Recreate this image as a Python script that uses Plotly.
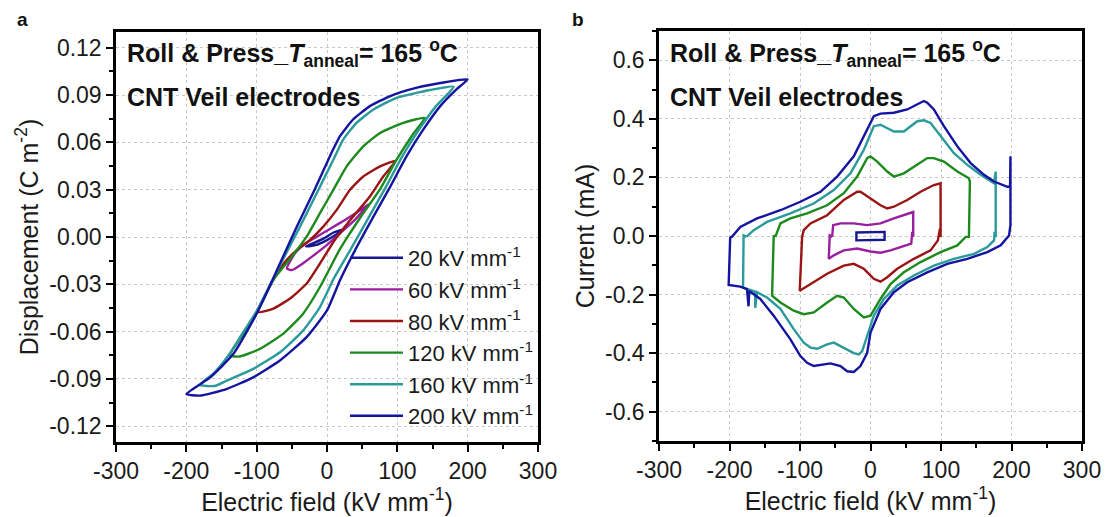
import plotly.graph_objects as go

# ---------------- Panel a: D-E loops ----------------
series_names = ["20 kV mm<sup>-1</sup>", "60 kV mm<sup>-1</sup>", "80 kV mm<sup>-1</sup>",
                "120 kV mm<sup>-1</sup>", "160 kV mm<sup>-1</sup>", "200 kV mm<sup>-1</sup>"]
series_colors = ["#17178f", "#9a1f9e", "#9b1414", "#1c8a1c", "#2a9a9a", "#1414a0"]

de_20_E = [25, 10, -5, -20, -30, -15, 0, 15, 25]
de_20_D = [0.005, 0.003, -0.001, -0.004, -0.006, -0.005, -0.002, 0.002, 0.005]

de_60_E = [59, 47, 30, 15, 0, -15, -30, -45, -57, -50, -35, -20, 0, 20, 40, 59]
de_60_D = [0.0208, 0.017, 0.012, 0.008, 0.004, 0.0, -0.004, -0.010, -0.020,
           -0.021, -0.017, -0.012, -0.005, 0.003, 0.011, 0.0208]

de_80_E = [97.6, 75.4, 51.6, 32.7, 13.8, -5.3, -24.2, -43, -60, -75, -97.7,
           -76.3, -52.6, -28.9, -10, 11, 33, 61, 80, 97.6]
de_80_D = [0.0484, 0.0448, 0.0384, 0.0299, 0.0172, 0.0066, -0.0019, -0.0083, -0.016, -0.026, -0.0476,
           -0.0454, -0.039, -0.0295, -0.0168, -0.0019, 0.0108, 0.0257, 0.0384, 0.0484]

de_120_E = [139, 108.5, 75.4, 51.6, 28, 9, -10, -29, -50, -76, -100, -120, -138,
            -124, -95, -62, -34, -10, 5, 18, 32, 50, 75, 99, 122, 139]
de_120_D = [0.0756, 0.0724, 0.066, 0.0575, 0.0448, 0.0299, 0.0151, 0.0002, -0.0125, -0.027, -0.048, -0.062, -0.0752,
            -0.0758, -0.0709, -0.0613, -0.0486, -0.0317, -0.019, -0.008, 0.002, 0.014, 0.030, 0.049, 0.065, 0.0756]

de_160_E = [180, 146.5, 99, 66, 42, 23, 9, -14.6, -38.4, -60, -76, -100, -120, -140, -160, -180.6,
            -160, -142.6, -104.8, -66.8, -33.7, -10, 10, 33, 60, 84, 107, 131, 155, 180]
de_160_D = [0.0953, 0.0932, 0.0883, 0.0809, 0.0724, 0.0618, 0.049, 0.0278, 0.0066, -0.012, -0.026, -0.047, -0.061, -0.075, -0.086, -0.0938,
            -0.0945, -0.0911, -0.0836, -0.0731, -0.0592, -0.0444, -0.026, -0.0083, 0.0129, 0.032, 0.0511, 0.0682, 0.083, 0.0953]

de_200_E = [200, 170, 128, 90, 61, 37, 18.5, 4, -19.5, -43, -62, -76, -100, -133, -166, -200,
            -181, -143, -105, -67, -29, 0, 18.5, 40, 66, 90, 113, 137, 161, 184, 200]
de_200_D = [0.100, 0.0983, 0.0947, 0.0894, 0.0830, 0.0745, 0.0639, 0.0511, 0.0282, 0.0065, -0.0120, -0.0258, -0.0486, -0.0741, -0.0890, -0.0996,
            -0.1006, -0.0964, -0.0890, -0.0783, -0.0635, -0.0465, -0.0274, -0.0083, 0.0129, 0.0320, 0.0511, 0.0682, 0.0830, 0.0936, 0.100]

de_E = [de_20_E, de_60_E, de_80_E, de_120_E, de_160_E, de_200_E]
de_D = [de_20_D, de_60_D, de_80_D, de_120_D, de_160_D, de_200_D]

# ---------------- Panel b: I-E loops ----------------
ie_20_E = [-20, -20, 20, 20, -20, -20]
ie_20_I = [-0.003, 0.012, 0.014, -0.013, -0.015, -0.003]

ie_60_E = [-54.4, -53, -42.6, -23.7, -4.7, 14.2, 33.1, 52.1, 60.6, 60.6, 59.2, 57.8, 47.3, 28.4, 14.2, 0,
           -18.9, -37.9, -52.1, -59.2, -57.8, -54.4]
ie_60_I = [-0.003, 0.037, 0.043, 0.043, 0.037, 0.043, 0.060, 0.075, 0.082, -0.003, 0.014, -0.026, -0.034, -0.049, -0.057, -0.053,
           -0.043, -0.049, -0.066, -0.078, 0.002, -0.003]

ie_80_E = [-97, -94.7, -85.2, -61.5, -37.9, -18.9, -14.2, 0, 14.2, 23.7, 33.1, 52.1, 71, 89.9, 99.4, 99.4, 98.5,
           95.6, 85.2, 61.5, 37.9, 23.7, 14.2, 4.7, 0, -9.5, -23.7, -37.9, -61.5, -80.5, -100.4, -97]
ie_80_I = [-0.003, 0.020, 0.043, 0.071, 0.123, 0.151, 0.151, 0.128, 0.105, 0.094, 0.100, 0.123, 0.151, 0.174, 0.180, -0.003, 0.025,
           -0.015, -0.049, -0.078, -0.112, -0.141, -0.156, -0.146, -0.135, -0.112, -0.095, -0.101, -0.129, -0.158, -0.187, -0.003]

ie_120_E = [-134.9, -127.8, -113.6, -89.9, -61.5, -37.9, -18.9, -4.7, 0, 9.5, 23.7, 33.1, 47.3, 61.5, 80.5, 89.9, 104.1,
            123.2, 139.6, 141, 139.6, 135, 123.2, 99.4, 71, 47.3, 28.4, 14.2, 0, -9.5, -23.7, -37.9, -47.3, -61.5,
            -80.5, -94.7, -108.9, -127.8, -139.6, -137.3, -134.9]
ie_120_I = [-0.003, 0.043, 0.060, 0.077, 0.105, 0.146, 0.203, 0.266, 0.272, 0.254, 0.220, 0.203, 0.214, 0.237, 0.266, 0.266, 0.254,
            0.220, 0.197, 0.186, -0.003, -0.003, -0.032, -0.055, -0.089, -0.124, -0.164, -0.215, -0.272, -0.278, -0.249, -0.210, -0.204, -0.227,
            -0.261, -0.267, -0.255, -0.227, -0.204, 0.002, -0.003]

ie_160_E = [-176.1, -165.7, -146.8, -113.6, -80.5, -52.1, -28.4, -9.5, 4.7, 14.2, 33.1, 47.3, 66.3, 75.7, 85.2, 99.4,
            118.3, 137.3, 156.3, 175.2, 177.6, 177.6, 176.1, 175.2, 165.7, 146.8, 118.3, 89.9, 61.5, 37.9, 18.9, 4.7,
            -4.7, -11.8, -16.6, -23.7, -42.6, -52.1, -61.6, -75.7, -85.2, -94.7, -108.9, -127.8, -146.8, -161,
            -163.5, -163.5, -175.2, -180.8, -180, -176.1]
ie_160_I = [-0.003, 0.020, 0.048, 0.077, 0.111, 0.157, 0.214, 0.294, 0.375, 0.380, 0.357, 0.357, 0.392, 0.395, 0.386, 0.340,
            0.283, 0.243, 0.209, 0.180, 0.220, -0.003, 0.014, -0.015, -0.038, -0.061, -0.078, -0.101, -0.135, -0.169, -0.215, -0.272,
            -0.341, -0.393, -0.404, -0.400, -0.376, -0.364, -0.370, -0.385, -0.381, -0.364, -0.318, -0.249, -0.210, -0.192,
            -0.245, -0.190, -0.181, -0.175, 0.002, -0.003]

ie_200_E = [-199, -196.5, -184.7, -161, -127.8, -99.4, -71, -47.3, -23.7, -4.7, 4.7, 14.2, 33.1, 52.1, 75.7, 80.5, 89.9,
            104.1, 123.2, 142, 161, 175.2, 194.2, 198, 198.5, 198.5, 196.5, 184.7, 165.7, 137.3, 108.9, 80.5, 52.1,
            33.1, 14.2, 0, -4.7, -14.2, -23.7, -33.1, -42.6, -56.8, -71, -80.5, -89.9, -99.4, -113.6, -137.3,
            -156.3, -165.7, -172, -173, -175.2, -184.7, -201.2, -199]
ie_200_I = [-0.003, -0.003, 0.031, 0.060, 0.088, 0.117, 0.151, 0.203, 0.272, 0.363, 0.409, 0.418, 0.421, 0.432, 0.461, 0.455, 0.432,
            0.375, 0.306, 0.249, 0.209, 0.186, 0.168, 0.168, 0.272, 0.037, 0.002, -0.032, -0.055, -0.078, -0.095, -0.124, -0.158,
            -0.192, -0.249, -0.330, -0.399, -0.444, -0.464, -0.462, -0.444, -0.435, -0.439, -0.444, -0.433, -0.410, -0.353, -0.272,
            -0.215, -0.198, -0.188, -0.240, -0.181, -0.173, -0.167, -0.003]

ie_E = [ie_20_E, ie_60_E, ie_80_E, ie_120_E, ie_160_E, ie_200_E]
ie_I = [ie_20_I, ie_60_I, ie_80_I, ie_120_I, ie_160_I, ie_200_I]

# ---------------- Tick labels ----------------
x_tickvals = [-300, -200, -100, 0, 100, 200, 300]
x_ticktext = ["-300", "-200", "-100", "0", "100", "200", "300"]
ya_tickvals = [0.12, 0.09, 0.06, 0.03, 0.0, -0.03, -0.06, -0.09, -0.12]
ya_ticktext = ["0.12", "0.09", "0.06", "0.03", "0.00", "-0.03", "-0.06", "-0.09", "-0.12"]
yb_tickvals = [0.6, 0.4, 0.2, 0.0, -0.2, -0.4, -0.6]
yb_ticktext = ["0.6", "0.4", "0.2", "0.0", "-0.2", "-0.4", "-0.6"]

FONT = "Arial, Liberation Sans, sans-serif"
FS = 23      # tick labels
FT = 25      # axis titles

fig = go.Figure()
for i in range(6):
    fig.add_trace(go.Scatter(x=de_E[i], y=de_D[i], mode="lines", name=series_names[i],
                             line=dict(color=series_colors[i], width=2.4, shape="spline", smoothing=0.5),
                             xaxis="x", yaxis="y", showlegend=True))
for i in range(6):
    fig.add_trace(go.Scatter(x=ie_E[i], y=ie_I[i], mode="lines", name=series_names[i],
                             line=dict(color=series_colors[i], width=2.4),
                             xaxis="x2", yaxis="y2", showlegend=False))

# page body adds an 8px offset, so the figure is 8px smaller than the window
W, H = 1101, 509
def dom_x(a, b):
    return [a / W, b / W]
def dom_y(top, bottom):
    return [(H - bottom) / H, (H - top) / H]

axis_common = dict(showline=True, linecolor="black", linewidth=2.5, mirror=True,
                   ticks="outside", ticklen=7, tickwidth=2, tickcolor="black",
                   showgrid=True, gridcolor="#c8c8c8", griddash="dot", gridwidth=1,
                   zeroline=False, tickfont=dict(size=FS, color="#1a1a1a", family=FONT),
                   automargin=False)
minor_common = dict(ticks="outside", ticklen=4, tickwidth=2, tickcolor="black", showgrid=False)

fig.update_layout(
    width=W, height=H,
    margin=dict(l=0, r=0, t=0, b=0),
    paper_bgcolor="white", plot_bgcolor="white",
    font=dict(family=FONT, color="#1a1a1a"),
    xaxis=dict(domain=dom_x(108, 530), range=[-300, 300], tickvals=x_tickvals, ticktext=x_ticktext,
               minor=dict(dtick=50, tick0=0, **minor_common),
               title=dict(text="Electric field (kV mm<sup>-1</sup>)", font=dict(size=FT, family=FONT), standoff=2),
               anchor="y", **axis_common),
    yaxis=dict(domain=dom_y(24, 434), range=[-0.13, 0.13], tickvals=ya_tickvals, ticktext=ya_ticktext,
               minor=dict(dtick=0.015, tick0=0, **minor_common),
               title=dict(text="Displacement (C m<sup>-2</sup>)", font=dict(size=FT, family=FONT), standoff=4),
               anchor="x", **axis_common),
    xaxis2=dict(domain=dom_x(651, 1074), range=[-300, 300], tickvals=x_tickvals, ticktext=x_ticktext,
                minor=dict(dtick=50, tick0=0, **minor_common),
                title=dict(text="Electric field (kV mm<sup>-1</sup>)", font=dict(size=FT, family=FONT), standoff=2),
                anchor="y2", **axis_common),
    yaxis2=dict(domain=dom_y(23, 433), range=[-0.7, 0.7], tickvals=yb_tickvals, ticktext=yb_ticktext,
                minor=dict(dtick=0.1, tick0=0, **minor_common),
                title=dict(text="Current (mA)", font=dict(size=FT, family=FONT), standoff=4),
                anchor="x2", **axis_common),
    legend=dict(x=337 / W, y=1 - 229 / H, xanchor="left", yanchor="top",
                bgcolor="rgba(0,0,0,0)", borderwidth=0, itemwidth=53,
                font=dict(size=22, family=FONT, color="#1a1a1a"), tracegroupgap=0),
    showlegend=True,
)

title_text = "<b>Roll & Press_<i>T</i><sub>anneal</sub>= 165 <sup>o</sup>C</b>"
sub_text = "<b>CNT Veil electrodes</b>"
for x0 in (117, 660):
    fig.add_annotation(text=title_text, xref="paper", yref="paper", x=x0 / W, y=1 - 45 / H,
                       xanchor="left", yanchor="middle", showarrow=False,
                       font=dict(size=25, family=FONT, color="#111111"))
    fig.add_annotation(text=sub_text, xref="paper", yref="paper", x=x0 / W, y=1 - 89 / H,
                       xanchor="left", yanchor="middle", showarrow=False,
                       font=dict(size=25, family=FONT, color="#111111"))
for lab, x0 in (("a", 14), ("b", 570)):
    fig.add_annotation(text="<b>" + lab + "</b>", xref="paper", yref="paper", x=x0 / W, y=1,
                       xanchor="center", yanchor="top", showarrow=False, borderpad=0,
                       font=dict(size=19, family=FONT, color="#111111"))

fig.write_html("out.html")
